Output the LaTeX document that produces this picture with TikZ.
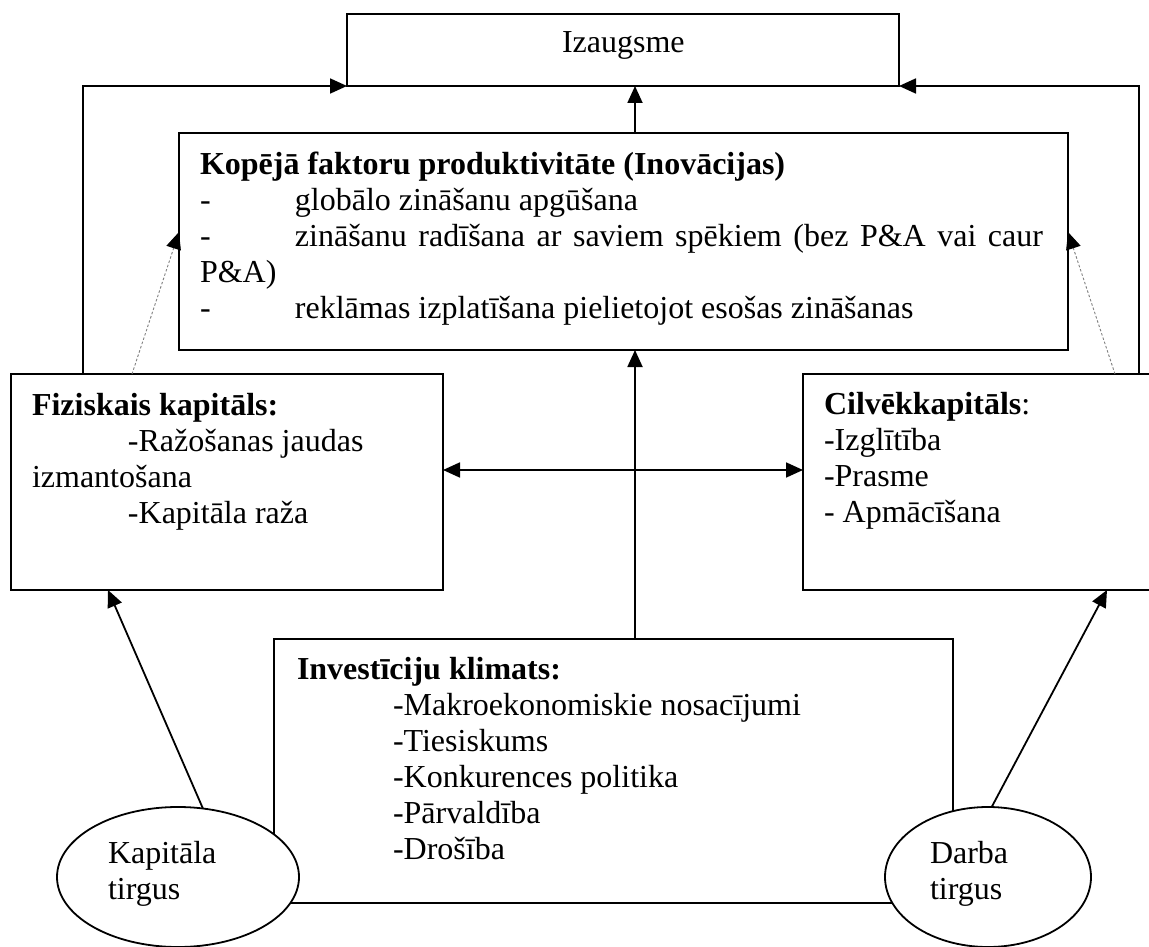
\documentclass[tikz,border=0pt]{standalone}
\usepackage{fontspec}
\setmainfont{Liberation Serif}
\usetikzlibrary{arrows.meta,shapes.geometric}
\begin{document}
\begin{tikzpicture}[x=1pt,y=-1pt,
  frame/.style={draw, line width=1.8pt, fill=white, inner sep=0pt, outer sep=0pt, anchor=north west},
  oval/.style={ellipse, draw, line width=1.8pt, fill=white, inner sep=0pt, outer sep=0pt},
  txt/.style={inner sep=0pt, outer sep=0pt, anchor=base west, font=\fontsize{32}{36}\selectfont},
  link/.style={line width=1.8pt, -{Triangle[length=17pt,width=15pt]}},
  twoway/.style={line width=1.8pt, {Triangle[length=17pt,width=15pt]}-{Triangle[length=17pt,width=15pt]}},
  hint/.style={draw=gray, line width=0.9pt, dash pattern=on 2.5pt off 2pt,
    -{Triangle[length=17pt,width=15pt,black,fill=black]}}]

\fill[white] (0,0) rectangle (1149,947);
\useasboundingbox (0,0) rectangle (1149,947);

% boxes
\node[frame, minimum width=552pt, minimum height=72pt]  (grow) at (347,14)  {};
\node[frame, minimum width=889pt, minimum height=217pt] (tfp)  at (179,133) {};
\node[frame, minimum width=432pt, minimum height=216pt] (fiz)  at (11,374)  {};
\node[frame, minimum width=348pt, minimum height=216pt] (cil)  at (803,374) {};
\node[frame, minimum width=679pt, minimum height=264pt] (inv)  at (274,639) {};

% helper coordinates for the connector routes
\coordinate (lx) at (83,0);
\coordinate (rx) at (1139,0);
\coordinate (mx) at (635,0);
\coordinate (hy) at (0,470);
\coordinate (kx) at (108,0);
\coordinate (dx) at (1107,0);
\coordinate (fl) at (132,0);
\coordinate (cr) at (1115,0);
\coordinate (ty) at (0,232);

% connectors
\draw[link] (tfp.north -| mx) -- (grow.south -| mx);
\draw[link] (fiz.north -| lx) |- (grow.south west);
\draw[link] (cil.north -| rx) |- (grow.south east);
\draw[link] (inv.north -| mx) -- (tfp.south -| mx);
\draw[twoway] (fiz.east |- hy) -- (cil.west |- hy);
\draw[hint] (fiz.north -| fl) -- (tfp.west |- ty);
\draw[hint] (cil.north -| cr) -- (tfp.east |- ty);

% market ellipses
\node[oval, minimum width=242pt, minimum height=140pt] (kap) at (178,877) {};
\node[oval, minimum width=206pt, minimum height=140pt] (dar) at (988,877) {};
\draw[link] (kap.70) -- (fiz.south -| kx);
\draw[link] (dar.87) -- (cil.south -| dx);

% texts
\node[txt] (growtxt) at (562,53) {Izaugsme};

\node[txt] (tfptxt) at (200,175) {\parbox[t]{860pt}{\raggedright
  \textbf{Kopējā faktoru produktivitāte (Inovācijas)}\\
  \makebox[95pt][l]{-}globālo zināšanu apgūšana\\
  \makebox[95pt][l]{-}\makebox[748pt][s]{zināšanu radīšana ar saviem spēkiem (bez P\&A vai caur}\\
  P\&A)\\
  \makebox[95pt][l]{-}reklāmas izplatīšana pielietojot esošas zināšanas}};

\node[txt] (fiztxt) at (32,415) {\parbox[t]{400pt}{\raggedright
  \textbf{Fiziskais kapitāls:}\\
  \hspace*{96pt}-Ražošanas jaudas\\
  izmantošana\\
  \hspace*{96pt}-Kapitāla raža}};

\node[txt] (ciltxt) at (824,414) {\parbox[t]{320pt}{\raggedright
  \textbf{Cilvēkkapitāls}:\\
  -Izglītība\\
  -Prasme\\
  - Apmācīšana}};

\node[txt] (invtxt) at (297,679) {\parbox[t]{640pt}{\raggedright
  \textbf{Investīciju klimats:}\\
  \hspace*{96pt}-Makroekonomiskie nosacījumi\\
  \hspace*{96pt}-Tiesiskums\\
  \hspace*{96pt}-Konkurences politika\\
  \hspace*{96pt}-Pārvaldība\\
  \hspace*{96pt}-Drošība}};

\node[txt] (kaptxt) at (108,863) {\parbox[t]{180pt}{\raggedright Kapitāla\\ tirgus}};
\node[txt] (dartxt) at (930,863) {\parbox[t]{150pt}{\raggedright Darba\\ tirgus}};
\end{tikzpicture}
\end{document}
